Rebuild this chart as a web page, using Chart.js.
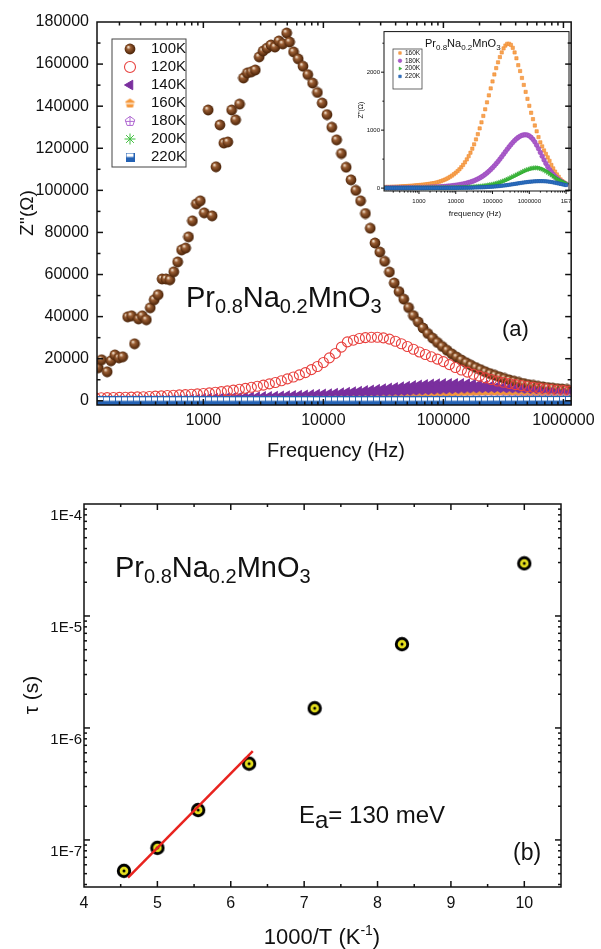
<!DOCTYPE html>
<html>
<head>
<meta charset="utf-8">
<script src="https://cdn.jsdelivr.net/npm/chart.js@4.4.1/dist/chart.umd.min.js"></script>
<style>
  body { margin: 0; background: #fff; width: 601px; height: 949px; overflow: hidden; position: relative; }
  canvas { position: absolute; }
  #main { left: 0; top: 0; }
  #inset { left: 346px; top: 24px; }
  #arr { left: 0; top: 470px; }
</style>
</head>
<body>
<canvas id="main" width="601" height="470"></canvas>
<canvas id="inset" width="238" height="200"></canvas>
<canvas id="arr" width="601" height="479"></canvas>
<script>
// ---- data ----

// 100K: own frequency list (noisy low-frequency part, then the smooth tail)
const freq100 = [133,142,158,170,183,198,213,234,252,267,288,310,335,361,389,420,453,488,526,567,
  611,659,711,752,811,874,943,1017,1096,1182,1274,1374,1482,1597,1722,1857,2003,2159,2328,2510,
  2707,2918,3147,3393,3658,3945,4254,4586,4944,5233,5643,
  6166,6761,7413,8128,8913,9772,10715,11749,12882,14125,15488,16982,18621,20417,22387,24547,26915,29512,32359,35481,
  38905,42658,46774,51286,56234,61660,67608,74131,81283,89125,97724,107152,117490,128825,141254,154882,169824,186209,204174,223872,
  245471,269153,295121,323594,354813,389045,426580,467735,512861,562341,616595,676083,741310,812831,891251,977237,1071519];
const z100 = [15700,19500,13800,19000,21800,20400,20900,39900,40400,27100,38900,40400,38500,44200,48000,50400,57900,57900,57500,61300,
  66000,71700,72600,77900,85500,93600,95000,89300,138200,87900,111200,131100,122500,123000,138200,133500,141000,153400,155800,156300,
  157200,163400,166200,167600,169100,168100,171000,169600,174800,170500,165800,
  162500,159000,155000,151000,146500,141500,136000,130000,124000,117500,111000,105000,100000,95000,89000,82000,75000,70700,66300,61200,
  56000,51900,48300,44300,40500,37500,34600,32000,29800,27700,25800,24000,22300,20800,19400,18100,16900,15800,14800,13800,
  12900,12100,11300,10600,9900,9300,8700,8200,7700,7300,6900,6600,6300,6000,5800,5600,5400];

// frequency grid (Hz) shared by the 120K ... 220K curves
const freq = [126,141,158,178,200,224,251,282,316,355,398,447,501,562,631,708,794,891,
  1000,1122,1259,1413,1585,1778,1995,2239,2512,2818,3162,3548,3981,4467,5012,5623,6310,7079,7943,8913,
  10000,11220,12589,14125,15849,17783,19953,22387,25119,28184,31623,35481,39811,44668,50119,56234,63096,70795,79433,89125,
  100000,112202,125893,141254,158489,177828,199526,223872,251189,281838,316228,354813,398107,446684,501187,562341,630957,707946,794328,891251,
  1000000,1122018,1258925,1412538,1584893,1778279,1995262,2238721,2511886,2818383,3162278,3548134,3981072,4466836,5011872,5623413,6309573,7079458,7943282,8912509,
  10000000];

const z120 = [1400,1450,1500,1550,1600,1650,1750,1850,1950,2050,2200,2350,2500,2650,2800,2950,3100,3300,
  3500,3750,4050,4350,4700,5050,5450,5900,6400,6900,7450,8050,8700,9500,10400,11300,12300,13400,14800,16300,
  18200,20400,22500,25500,28000,28800,29600,30000,30200,30200,29900,29300,28300,27100,25800,24500,23200,22000,20900,19800,
  18600,17200,15800,14600,13600,12600,11700,10900,10100,9400,8800,8200,7700,7200,6800,6400,6000,5700,5400,5100,
  4850,4600];
const z140 = [500,500,550,550,600,600,650,700,750,800,850,900,950,1000,1100,1200,1300,1400,
  1700,1750,1800,1900,1950,2050,2150,2250,2350,2450,2550,2650,2750,2850,2950,3050,3200,3350,3500,3650,
  3800,3950,4150,4350,4600,4850,5100,5400,5700,6000,6300,6600,6900,7200,7500,7800,8050,8300,8500,8650,
  8750,8800,8800,8750,8650,8450,8200,7900,7600,7300,6950,6600,6300,6000,5700,5400,5150,4900,4700,4500,
  4300,4150];
const z160 = [20,20,20,22,22,24,25,26,28,30,32,34,36,38,40,43,46,49,
  52,55,58,62,66,70,75,80,85,92,100,110,120,132,145,160,177,196,217,240,
  266,294,325,360,400,445,495,550,610,680,755,840,930,1030,1135,1245,1360,1480,1600,1720,
  1840,1960,2070,2170,2260,2340,2410,2460,2490,2490,2470,2420,2340,2240,2120,2020,1900,1780,1660,1540,
  1420,1300,1190,1080,980,880,790,720,650,590,530,470,400,340,285,235,195,150,120,95,
  75];
const z180 = [5,5,5,5,5,6,6,6,6,7,7,7,8,8,8,9,9,10,
  10,11,11,12,13,14,15,16,17,18,20,22,24,26,28,31,34,37,41,45,
  49,54,59,65,71,78,86,95,105,116,128,142,157,174,193,214,237,262,290,320,
  352,386,422,460,500,542,585,628,670,711,750,787,820,850,875,895,910,918,920,915,
  900,875,840,795,740,680,615,550,485,425,370,320,275,235,200,170,145,122,102,85,
  70];
const z200 = [2,2,2,2,2,2,2,2,3,3,3,3,3,3,3,4,4,4,
  4,4,4,5,5,5,5,5,6,6,6,6,6,7,7,7,7,7,8,8,
  8,9,10,11,12,13,14,16,18,20,22,25,28,31,34,38,42,47,52,58,
  64,71,79,88,98,109,121,134,148,163,178,194,210,226,242,258,274,289,303,316,
  327,337,344,348,349,346,339,328,313,295,274,252,229,206,184,163,143,125,109,94,
  80];
const z220 = [0,0,0,0,0,0,0,0,0,0,0,0,0,0,0,0,0,0,
  0,0,0,0,1,1,1,1,1,1,2,2,2,2,2,3,3,3,3,4,
  4,4,5,5,6,6,7,7,8,9,10,11,12,13,14,15,17,19,21,23,
  25,27,30,33,36,40,44,48,52,57,62,67,72,77,82,87,92,97,101,105,
  109,112,115,117,119,120,120,120,119,117,114,110,105,99,93,86,79,72,65,58,
  52];

// panel (b): relaxation time vs 1000/T
const invT = [4.545, 5, 5.556, 6.25, 7.143, 8.333, 10];
const tau = [5.3e-8, 8.5e-8, 1.85e-7, 4.8e-7, 1.5e-6, 5.6e-6, 2.95e-5];
const fitX = [4.6, 6.3];
const fitTau = [4.6e-8, 6.2e-7];

// tick labels
const mainXTicks = [1000, 10000, 100000, 1000000];
const mainXLabels = ['1000', '10000', '100000', '1000000'];
const mainYTicks = [0, 20000, 40000, 60000, 80000, 100000, 120000, 140000, 160000, 180000];
const mainYLabels = ['0', '20000', '40000', '60000', '80000', '100000', '120000', '140000', '160000', '180000'];
const insetXTicks = [1000, 10000, 100000, 1000000, 10000000];
const insetXLabels = ['1000', '10000', '100000', '1000000', '1E7'];
const insetYTicks = [0, 1000, 2000];
const insetYLabels = ['0', '1000', '2000'];
const tauXTicks = [4, 5, 6, 7, 8, 9, 10];
const tauXLabels = ['4', '5', '6', '7', '8', '9', '10'];
const tauYTicks = [1e-7, 1e-6, 1e-5, 1e-4];
const tauYLabels = ['1E-7', '1E-6', '1E-5', '1E-4'];

// ---- styling ----
const FONT = "'Liberation Sans', Arial, Helvetica, sans-serif";
Chart.defaults.font.family = FONT;
Chart.defaults.color = '#111';

const RED = '#e8413e', PURPLE = '#7a2f9e', ORANGE = '#f5973a', LAV = '#b06ad2', GREEN = '#3fbf3f', BLUE = '#2462b4';

function makeImg(w, h, draw) {
  const c = document.createElement('canvas');
  c.width = w; c.height = h;
  draw(c.getContext('2d'));
  return c;
}
function pent(g, cx, cy, r) {
  g.beginPath();
  for (let k = 0; k < 5; k++) {
    const a = (-90 + 72 * k) * Math.PI / 180;
    g.lineTo(cx + r * Math.cos(a), cy + r * Math.sin(a));
  }
  g.closePath();
}

const sphere = makeImg(12, 12, g => {
  const gr = g.createRadialGradient(4.2, 3.9, 0.3, 6, 6, 6.2);
  gr.addColorStop(0, '#f4e4d0');
  gr.addColorStop(0.3, '#9a5e34');
  gr.addColorStop(0.75, '#5c2f10');
  gr.addColorStop(1, '#3b1c06');
  g.fillStyle = gr;
  g.beginPath(); g.arc(6, 6, 5.4, 0, Math.PI * 2); g.fill();
});
const orangeMark = makeImg(11, 11, g => {
  pent(g, 5.5, 5.9, 5); g.fillStyle = ORANGE; g.fill();
  g.strokeStyle = '#fff'; g.lineWidth = 1.2;
  g.beginPath(); g.moveTo(0.5, 6); g.lineTo(10.5, 6); g.stroke();
});
const lavMark = makeImg(12, 12, g => {
  pent(g, 6, 6.4, 5); g.strokeStyle = LAV; g.lineWidth = 1; g.stroke();
  g.beginPath(); g.moveTo(6, 1.4); g.lineTo(6, 10.6); g.moveTo(1.4, 6.4); g.lineTo(10.6, 6.4); g.stroke();
});
const blueMark = makeImg(9, 9, g => {
  g.fillStyle = '#fff'; g.fillRect(0.5, 0.5, 8, 8);
  g.fillStyle = BLUE; g.fillRect(0.5, 4.5, 8, 4);
  g.strokeStyle = BLUE; g.lineWidth = 1; g.strokeRect(0.5, 0.5, 8, 8);
});
const tauMark = makeImg(16, 16, g => {
  g.fillStyle = '#000'; g.beginPath(); g.arc(8, 8, 7.2, 0, Math.PI * 2); g.fill();
  g.fillStyle = '#e6e01e'; g.beginPath(); g.arc(8, 8, 4.3, 0, Math.PI * 2); g.fill();
  g.fillStyle = '#000'; g.beginPath(); g.arc(8, 8, 1.5, 0, Math.PI * 2); g.fill();
});

const pts = (xs, ys) => ys.map((y, i) => ({ x: xs[i], y: y }));

function logMinor(e0, e1) {
  const out = [];
  for (let e = e0; e <= e1; e++) for (let m = 2; m <= 9; m++) out.push(m * Math.pow(10, e));
  return out;
}

// box frame with tick marks (inward on all four sides, or outward on left/bottom)
const framePlugin = {
  id: 'frame',
  afterDatasetsDraw(chart, args, o) {
    const { ctx, chartArea: a } = chart;
    const sx = chart.scales.x, sy = chart.scales.y;
    ctx.save();
    ctx.strokeStyle = '#111';
    ctx.lineWidth = o.lw;
    const d = o.inward ? 1 : -1;
    const line = (x1, y1, x2, y2) => { ctx.beginPath(); ctx.moveTo(x1, y1); ctx.lineTo(x2, y2); ctx.stroke(); };
    const xt = (v, len) => {
      const p = sx.getPixelForValue(v);
      if (p < a.left + 1 || p > a.right - 1) return;
      line(p, a.bottom, p, a.bottom - d * len);
      if (o.inward) line(p, a.top, p, a.top + len);
    };
    const yt = (v, len) => {
      const p = sy.getPixelForValue(v);
      if (p < a.top + 1 || p > a.bottom - 1) return;
      line(a.left, p, a.left + d * len, p);
      if (o.inward) line(a.right, p, a.right - len, p);
    };
    o.xMajor.forEach(v => xt(v, o.major));
    o.xMinor.forEach(v => xt(v, o.minor));
    o.yMajor.forEach(v => yt(v, o.major));
    o.yMinor.forEach(v => yt(v, o.minor));
    ctx.strokeRect(a.left, a.top, a.right - a.left, a.bottom - a.top);
    ctx.restore();
  }
};

// legend drawn in a box at a fixed spot, markers taken from the datasets
const legendPlugin = {
  id: 'boxLegend',
  afterDraw(chart, args, o) {
    if (!o.box) return;
    const ctx = chart.ctx;
    ctx.save();
    ctx.strokeStyle = '#444';
    ctx.lineWidth = o.lw;
    const [x1, y1, x2, y2] = o.box;
    ctx.strokeRect(x1, y1, x2 - x1, y2 - y1);
    chart.data.datasets.forEach((ds, i) => {
      if (!ds.label) return;
      const y = o.y0 + i * o.dy;
      ctx.save();
      ctx.fillStyle = ds.pointBackgroundColor || 'rgba(0,0,0,0)';
      ctx.strokeStyle = ds.pointBorderColor || ds.pointBackgroundColor || '#000';
      ctx.lineWidth = ds.pointBorderWidth || 1;
      if (Chart.helpers && Chart.helpers.drawPoint) {
        Chart.helpers.drawPoint(ctx, {
          pointStyle: ds.pointStyle, radius: o.r,
          rotation: ds.pointRotation || 0, borderWidth: ds.pointBorderWidth || 1
        }, o.mx, y);
      }
      ctx.restore();
      ctx.font = o.size + 'px ' + FONT;
      ctx.fillStyle = '#111';
      ctx.textBaseline = 'middle';
      ctx.fillText(ds.label, o.tx, y);
    });
    ctx.restore();
  }
};

// free text with sub/superscripts: parts = [text, size, dy]
const richText = {
  id: 'richText',
  afterDraw(chart, args, o) {
    const ctx = chart.ctx;
    (o.items || []).forEach(it => {
      ctx.save();
      ctx.translate(it.x, it.y);
      if (it.rot) ctx.rotate(it.rot);
      ctx.fillStyle = '#111';
      ctx.textBaseline = 'alphabetic';
      let w = 0;
      it.parts.forEach(p => { ctx.font = p[1] + 'px ' + FONT; w += ctx.measureText(p[0]).width; });
      let x = it.center ? -w / 2 : 0;
      it.parts.forEach(p => {
        ctx.font = p[1] + 'px ' + FONT;
        ctx.fillText(p[0], x, p[2] || 0);
        x += ctx.measureText(p[0]).width;
      });
      ctx.restore();
    });
  }
};

const base = {
  responsive: false,
  animation: false,
  events: [],
};
const noGrid = { display: false, drawTicks: false };
const noBorder = { display: false };

// ---- panel (a) ----
const mainYMinor = [];
for (let v = 10000; v < 180000; v += 20000) mainYMinor.push(v);

new Chart(document.getElementById('main'), {
  type: 'line',
  data: {
    datasets: [
      { label: '100K', data: pts(freq100, z100), pointStyle: sphere, pointRadius: 5, showLine: false, order: 6 },
      { label: '120K', data: pts(freq, z120), pointStyle: 'circle', pointRadius: 5, pointBorderWidth: 1.1,
        pointBorderColor: RED, pointBackgroundColor: 'rgba(255,255,255,0)', showLine: false, order: 4 },
      { label: '140K', data: pts(freq, z140), pointStyle: 'triangle', pointRotation: 270, pointRadius: 5,
        pointBackgroundColor: PURPLE, pointBorderColor: PURPLE, pointBorderWidth: 0,
        showLine: true, borderColor: 'rgba(0,0,0,0)', borderWidth: 1, backgroundColor: PURPLE, fill: 'origin', order: 5 },
      { label: '160K', data: pts(freq, z160), pointStyle: orangeMark, pointRadius: 4,
        pointBackgroundColor: ORANGE, showLine: false, order: 3 },
      { label: '180K', data: pts(freq, z180), pointStyle: lavMark, pointRadius: 4,
        pointBorderColor: LAV, showLine: false, order: 2 },
      { label: '200K', data: pts(freq, z200), pointStyle: 'star', pointRadius: 5, pointBorderWidth: 1,
        pointBorderColor: GREEN, pointBackgroundColor: GREEN, showLine: false, order: 1 },
      { label: '220K', data: pts(freq, z220), pointStyle: blueMark, pointRadius: 4, showLine: false, order: 0 },
    ]
  },
  options: {
    ...base,
    layout: { padding: { top: 22, right: 26, left: 0, bottom: 0 } },
    scales: {
      x: {
        type: 'logarithmic', min: 130, max: 1.16e6,
        grid: noGrid, border: noBorder,
        ticks: { font: { size: 16 }, color: '#111', padding: 6, autoSkip: false, maxRotation: 0,
          callback: (v, i) => mainXLabels[i] },
        afterBuildTicks: s => { s.ticks = mainXTicks.map(v => ({ value: v })); },
        afterFit: s => { s.height = 65; }
      },
      y: {
        type: 'linear', min: -2000, max: 180000,
        grid: noGrid, border: noBorder,
        ticks: { font: { size: 16 }, color: '#111', padding: 8, autoSkip: false,
          callback: (v, i) => mainYLabels[i] },
        afterBuildTicks: s => { s.ticks = mainYTicks.map(v => ({ value: v })); },
        afterFit: s => { s.width = 97; }
      }
    },
    plugins: {
      legend: { display: false },
      tooltip: { enabled: false },
      frame: { lw: 1.5, inward: true, major: 6, minor: 3.5,
        xMajor: mainXTicks, xMinor: logMinor(2, 6), yMajor: mainYTicks, yMinor: mainYMinor },
      boxLegend: { box: [112, 39, 186, 167], lw: 1, mx: 130, tx: 151, y0: 49, dy: 18, size: 15, r: 5.5 },
      richText: { items: [
        { x: 33, y: 213, rot: -Math.PI / 2, center: true, parts: [["Z''(Ω)", 19]] },
        { x: 336, y: 457, center: true, parts: [['Frequency (Hz)', 20]] },
        { x: 186, y: 307, parts: [['Pr', 29], ['0.8', 20, 6], ['Na', 29], ['0.2', 20, 6], ['MnO', 29], ['3', 20, 6]] },
        { x: 502, y: 336, parts: [['(a)', 22]] },
      ] }
    }
  },
  plugins: [framePlugin, legendPlugin, richText]
});

// ---- inset ----
new Chart(document.getElementById('inset'), {
  type: 'line',
  data: {
    datasets: [
      { label: '160K', data: pts(freq, z160), pointStyle: 'rect', pointRadius: 2.3, pointBorderWidth: 0.6,
        pointBackgroundColor: '#f7a553', pointBorderColor: '#f08a30', showLine: false, order: 3 },
      { label: '180K', data: pts(freq, z180), pointStyle: 'circle', pointRadius: 2.3, pointBorderWidth: 0.6,
        pointBackgroundColor: '#a95cc9', pointBorderColor: '#9a48bd', showLine: false, order: 2 },
      { label: '200K', data: pts(freq, z200), pointStyle: 'triangle', pointRotation: 90, pointRadius: 2.6, pointBorderWidth: 0.5,
        pointBackgroundColor: '#3cba3c', pointBorderColor: '#2fa52f', showLine: false, order: 1 },
      { label: '220K', data: pts(freq, z220), pointStyle: 'rect', pointRadius: 2.2, pointBorderWidth: 0.6,
        pointBackgroundColor: '#2f72c4', pointBorderColor: '#1f5aa8', showLine: false, order: 0 },
    ]
  },
  options: {
    ...base,
    layout: { padding: { top: 5, right: 15, left: 0, bottom: 0 } },
    scales: {
      x: {
        type: 'logarithmic', min: 112, max: 1.2e7,
        grid: noGrid, border: noBorder,
        ticks: { font: { size: 6 }, color: '#111', padding: 7, autoSkip: false, maxRotation: 0,
          callback: (v, i) => insetXLabels[i] },
        afterBuildTicks: s => { s.ticks = insetXTicks.map(v => ({ value: v })); },
        afterFit: s => { s.height = 33; }
      },
      y: {
        type: 'linear', min: -50, max: 2700,
        grid: noGrid, border: noBorder,
        ticks: { font: { size: 6 }, color: '#111', padding: 4, autoSkip: false,
          callback: (v, i) => insetYLabels[i] },
        afterBuildTicks: s => { s.ticks = insetYTicks.map(v => ({ value: v })); },
        afterFit: s => { s.width = 38; }
      }
    },
    plugins: {
      legend: { display: false },
      tooltip: { enabled: false },
      frame: { lw: 1, inward: false, major: 3, minor: 1.6,
        xMajor: insetXTicks, xMinor: logMinor(2, 7), yMajor: insetYTicks, yMinor: [500, 1500, 2500] },
      boxLegend: { box: [47, 25, 76, 65], lw: 0.8, mx: 54, tx: 59, y0: 29, dy: 7.8, size: 6.5, r: 1.8 },
      richText: { items: [
        { x: 17, y: 86, rot: -Math.PI / 2, center: true, parts: [["Z''(Ω)", 7]] },
        { x: 129, y: 192, center: true, parts: [['frequency (Hz)', 8]] },
        { x: 79, y: 23, parts: [['Pr', 11], ['0.8', 8, 3], ['Na', 11], ['0.2', 8, 3], ['MnO', 11], ['3', 8, 3]] },
      ] }
    }
  },
  plugins: [framePlugin, legendPlugin, richText]
});

// ---- panel (b) ----
const tauXMinor = [4.5, 5.5, 6.5, 7.5, 8.5, 9.5];

new Chart(document.getElementById('arr'), {
  type: 'line',
  data: {
    datasets: [
      { data: pts(invT, tau), pointStyle: tauMark, pointRadius: 7, showLine: false, order: 1 },
      { data: pts(fitX, fitTau), showLine: true, borderColor: '#e8231f', borderWidth: 2.5, pointRadius: 0, order: 0 },
    ]
  },
  options: {
    ...base,
    layout: { padding: { top: 34, right: 40, left: 0, bottom: 0 } },
    scales: {
      x: {
        type: 'linear', min: 4, max: 10.5,
        grid: noGrid, border: noBorder,
        ticks: { font: { size: 16 }, color: '#111', padding: 7, autoSkip: false, maxRotation: 0,
          callback: (v, i) => tauXLabels[i] },
        afterBuildTicks: s => { s.ticks = tauXTicks.map(v => ({ value: v })); },
        afterFit: s => { s.height = 62; }
      },
      y: {
        type: 'logarithmic', min: 3.8e-8, max: 1e-4,
        grid: noGrid, border: noBorder,
        ticks: { font: { size: 15 }, color: '#111', padding: 2, labelOffset: 12, autoSkip: false,
          callback: (v, i) => tauYLabels[i] },
        afterBuildTicks: s => { s.ticks = tauYTicks.map(v => ({ value: v })); },
        afterFit: s => { s.width = 84; }
      }
    },
    plugins: {
      legend: { display: false },
      tooltip: { enabled: false },
      frame: { lw: 1.5, inward: true, major: 6, minor: 3,
        xMajor: tauXTicks, xMinor: tauXMinor, yMajor: tauYTicks, yMinor: logMinor(-8, -5) },
      richText: { items: [
        { x: 38, y: 225, rot: -Math.PI / 2, center: true, parts: [['τ (s)', 21]] },
        { x: 322, y: 474, center: true, parts: [['1000/T (K', 22], ['-1', 14, -9], [')', 22]] },
        { x: 115, y: 107, parts: [['Pr', 29], ['0.8', 20, 6], ['Na', 29], ['0.2', 20, 6], ['MnO', 29], ['3', 20, 6]] },
        { x: 299, y: 353, parts: [['E', 24], ['a', 24, 5], ['= 130 meV', 24]] },
        { x: 513, y: 390, parts: [['(b)', 23]] },
      ] }
    }
  },
  plugins: [framePlugin, richText]
});
</script>
</body>
</html>
